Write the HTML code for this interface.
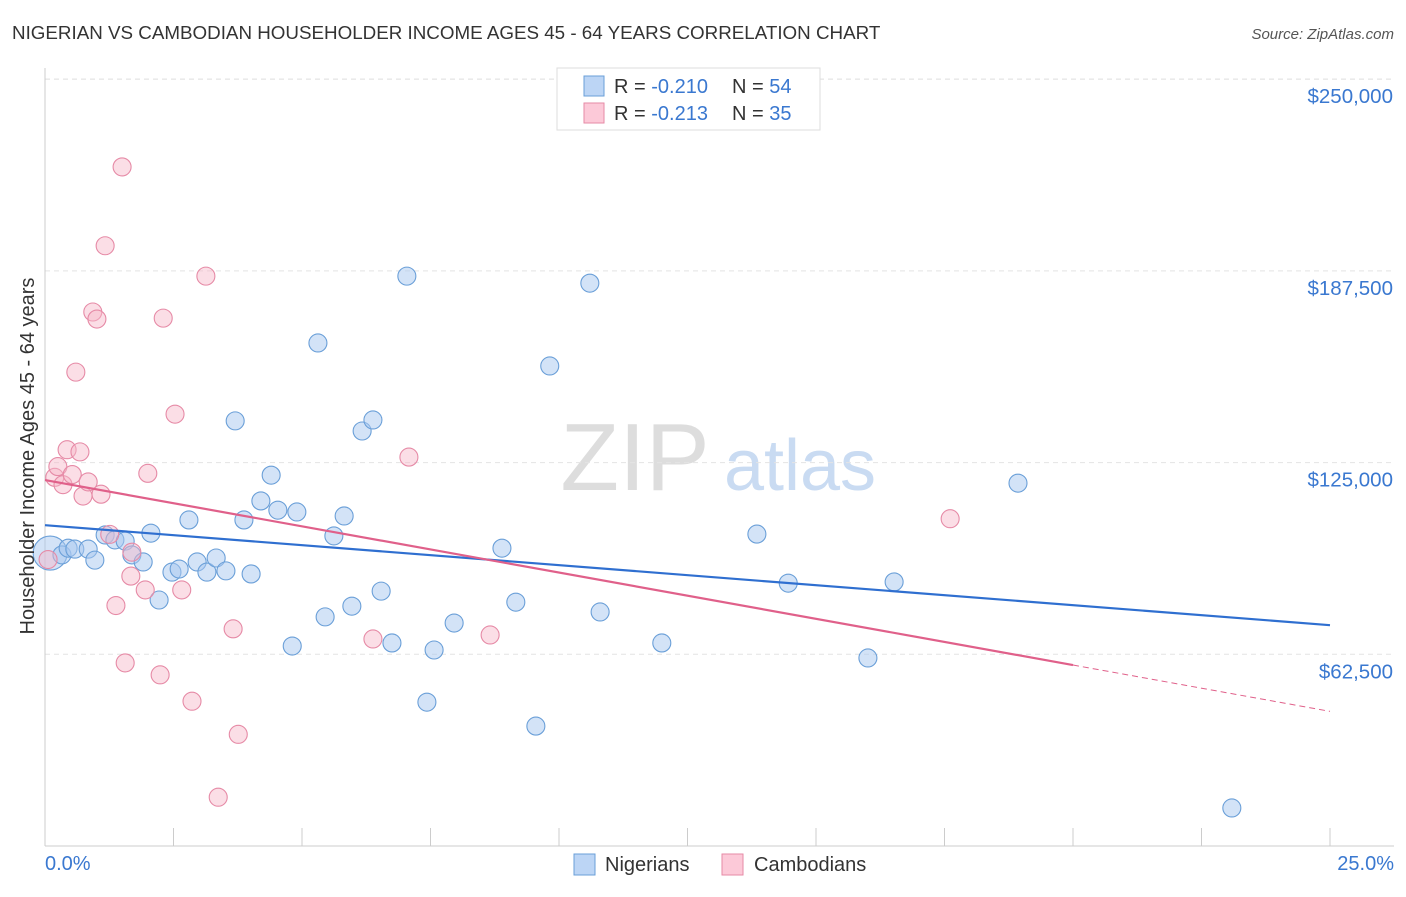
<!DOCTYPE html>
<html><head><meta charset="utf-8"><style>
body{margin:0;background:#fff;font-family:"Liberation Sans",sans-serif;}
svg text{font-family:"Liberation Sans",sans-serif;}
</style></head><body>
<svg id="c" width="1406" height="892" xmlns="http://www.w3.org/2000/svg">
<text x="12" y="39" font-size="18.8" fill="#333">NIGERIAN VS CAMBODIAN HOUSEHOLDER INCOME AGES 45 - 64 YEARS CORRELATION CHART</text>
<text x="1394" y="39" font-size="15" fill="#555" font-style="italic" text-anchor="end">Source: ZipAtlas.com</text>
<text x="635" y="490" font-size="96" fill="#ddd" font-family="Liberation Serif" text-anchor="middle">ZIP</text>
<text x="800" y="490" font-size="72" fill="#c9dbf2" text-anchor="middle">atlas</text>
<g id="grid"></g><g id="pts"></g><g id="lines"></g>
<text transform="translate(34,456) rotate(-90)" font-size="20" fill="#333" text-anchor="middle">Householder Income Ages 45 - 64 years</text>
<text x="45" y="870" font-size="20" fill="#3a78d0">0.0%</text>
<text x="1394" y="870" font-size="20" fill="#3a78d0" text-anchor="end">25.0%</text>
<g>
<rect x="557" y="68" width="263" height="62" fill="#fff" stroke="#ddd"/>
<rect x="584" y="76" width="20" height="20" fill="#bcd5f5" stroke="#6a9fd8"/>
<rect x="584" y="103" width="20" height="20" fill="#fcc9d8" stroke="#e68aa6"/>
<text x="614" y="93" font-size="20" fill="#333">R = <tspan fill="#3a78d0">-0.210</tspan><tspan x="732">N = </tspan><tspan fill="#3a78d0">54</tspan></text>
<text x="614" y="120" font-size="20" fill="#333">R = <tspan fill="#3a78d0">-0.213</tspan><tspan x="732">N = </tspan><tspan fill="#3a78d0">35</tspan></text>
</g>
<g>
<rect x="574" y="854" width="21" height="21" fill="#bcd5f5" stroke="#6a9fd8"/>
<text x="605" y="871" font-size="20" fill="#333">Nigerians</text>
<rect x="722" y="854" width="21" height="21" fill="#fcc9d8" stroke="#e68aa6"/>
<text x="754" y="871" font-size="20" fill="#333">Cambodians</text>
</g>
</svg>
<script>
const yTicks=[62500,125000,187500,250000];
const yTickLabels=["$62,500","$125,000","$187,500","$250,000"];
const xTicks=[0,2.5,5,7.5,10,12.5,15,17.5,20,22.5,25];
const nigX=[0.10,0.33,0.45,0.58,0.84,0.97,1.17,1.36,1.56,1.69,1.91,2.06,2.22,2.47,2.61,2.80,2.96,3.15,3.33,3.52,3.70,3.87,4.01,4.20,4.40,4.53,4.81,4.90,5.31,5.45,5.62,5.82,5.97,6.17,6.38,6.54,6.75,7.04,7.43,7.57,7.96,8.89,9.16,9.55,9.82,10.60,10.80,12.00,13.85,14.46,16.01,16.52,18.93,23.09];
const nigY=[95500,94900,97100,96800,96800,93200,101400,99800,99400,94900,92600,102000,80200,89300,90300,106300,92600,89300,93900,89700,138600,106300,88700,112500,120900,109500,65200,108900,164000,74700,101100,107600,78200,135300,138900,83100,66200,185800,46900,63900,72700,97100,79500,39100,156500,183500,76300,66200,101700,85700,61300,86100,118300,12400];
const camX=[0.06,0.19,0.25,0.35,0.43,0.53,0.6,0.68,0.74,0.84,0.93,1.01,1.09,1.17,1.26,1.38,1.5,1.56,1.67,1.69,1.95,2.24,2.3,2.53,2.0,2.66,2.86,3.13,3.37,3.66,3.76,6.38,7.08,8.66,17.61];
const camY=[93400,120200,123700,117800,129200,121100,154500,128500,114100,118700,174100,171800,114700,195700,101600,78400,221400,59700,88000,95800,83500,55800,172100,140800,121500,83500,47200,185800,15900,70800,36400,67500,126800,68800,106700];
const nigTrend=[104600,72000];
const camTrend=[119300,59000,43900];
const NS="http://www.w3.org/2000/svg";
const X=v=>45+v*51.4, Y=v=>846-v/62500*191.7;
function mk(t,a,p){const e=document.createElementNS(NS,t);for(const k in a)e.setAttribute(k,a[k]);p.appendChild(e);return e;}
const gG=document.getElementById('grid'),gP=document.getElementById('pts'),gL=document.getElementById('lines');
yTicks.forEach((t,i)=>{
 const l=mk('line',{x1:45,x2:1394,y1:Y(t),y2:Y(t),stroke:'#e4e4e4','stroke-dasharray':'5,4'},gG);
 
 
 const tx=mk('text',{x:1393,y:Y(t)+24,'font-size':20.5,fill:'#3a78d0','text-anchor':'end'},gG);
 tx.textContent=yTickLabels[i];
 
 
});
const topLine=mk('line',{x1:45,x2:1394,y1:79,y2:79,stroke:'#e4e4e4','stroke-dasharray':'5,4'},gG);
mk('line',{x1:45,x2:45,y1:68,y2:846,stroke:'#ccc'},gG);
const xa=mk('line',{x1:45,x2:1394,y1:846,y2:846,stroke:'#ccc'},gG);


xTicks.forEach(t=>{const l=mk('line',{x1:X(t),x2:X(t),y1:828,y2:846,stroke:'#ccc'},gG);
 
 });
nigX.forEach((x,i)=>{const c=mk('circle',{cx:X(x),cy:Y(nigY[i]),r:i==0?17:9,fill:'rgba(168,200,240,0.5)',stroke:'#6a9fd8','stroke-width':1.1},gP);
 
 });
camX.forEach((x,i)=>{const c=mk('circle',{cx:X(x),cy:Y(camY[i]),r:9,fill:'rgba(247,182,200,0.45)',stroke:'#e68aa6','stroke-width':1.1},gP);
 
 });
const bl=mk('line',{x1:X(0),y1:Y(nigTrend[0]),x2:X(25),y2:Y(nigTrend[1]),stroke:'#2f6fd0','stroke-width':2.2},gL);


const pl=mk('line',{x1:X(0),y1:Y(camTrend[0]),x2:X(20),y2:Y(camTrend[1]),stroke:'#e0608a','stroke-width':2.2},gL);


const pd=mk('line',{x1:X(20),y1:Y(camTrend[1]),x2:X(25),y2:Y(camTrend[2]),stroke:'#e0608a','stroke-width':1,'stroke-dasharray':'6,4'},gL);


</script>
</body></html>
